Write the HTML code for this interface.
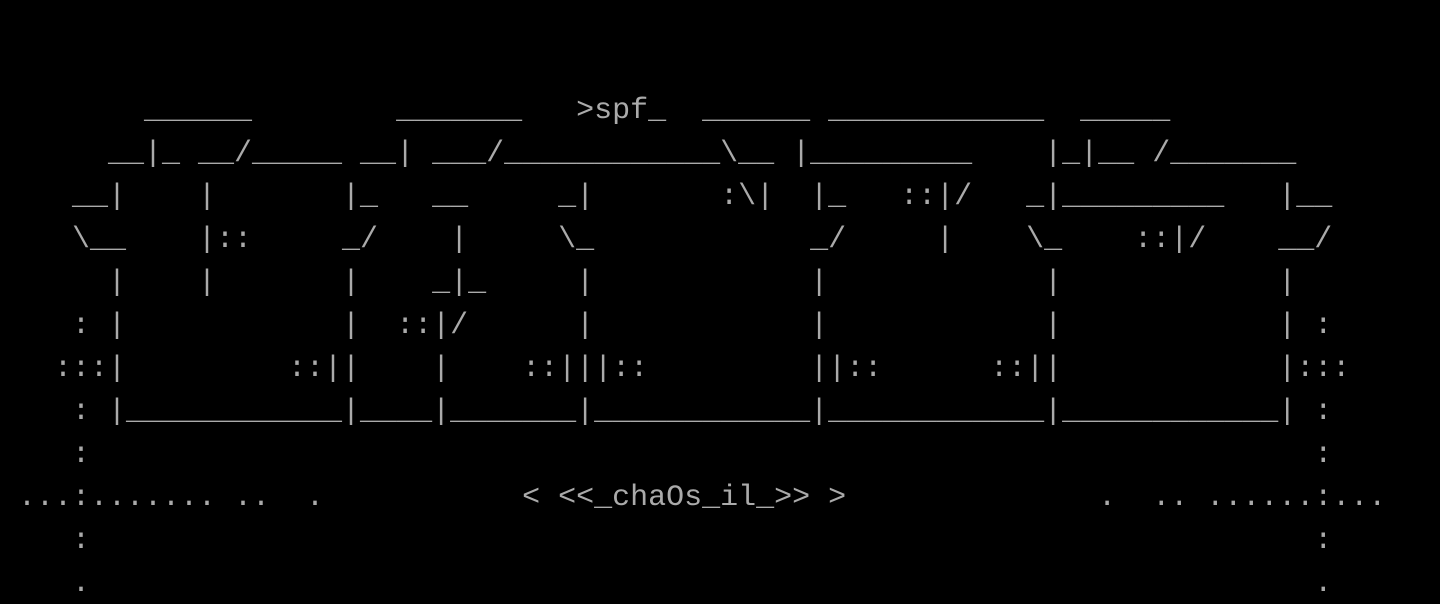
<!DOCTYPE html>
<html><head><meta charset="utf-8"><style>
html,body{margin:0;padding:0;background:#000;width:1440px;height:604px;overflow:hidden}
pre{margin:0;padding:90px 0 0 0;font-family:"Liberation Mono",monospace;font-size:30px;line-height:43px;color:#aaaaaa;white-space:pre}
</style></head><body><pre>        ______        _______   &gt;spf_  ______ ____________  _____
      __|_ __/_____ __| ___/____________\__ |_________    |_|__ /_______
    __|    |       |_   __     _|       :\|  |_   ::|/   _|_________   |__
    \__    |::     _/    |     \_            _/     |    \_    ::|/    __/
      |    |       |    _|_     |            |            |            |
    : |            |  ::|/      |            |            |            | :
   :::|         ::||    |    ::|||::         ||::      ::||            |:::
    : |____________|____|_______|____________|____________|____________| :
    :                                                                    :
 ...:....... ..  .           &lt; &lt;&lt;_chaOs_il_&gt;&gt; &gt;              .  .. ......:...
    :                                                                    :
    .                                                                    .</pre></body></html>
